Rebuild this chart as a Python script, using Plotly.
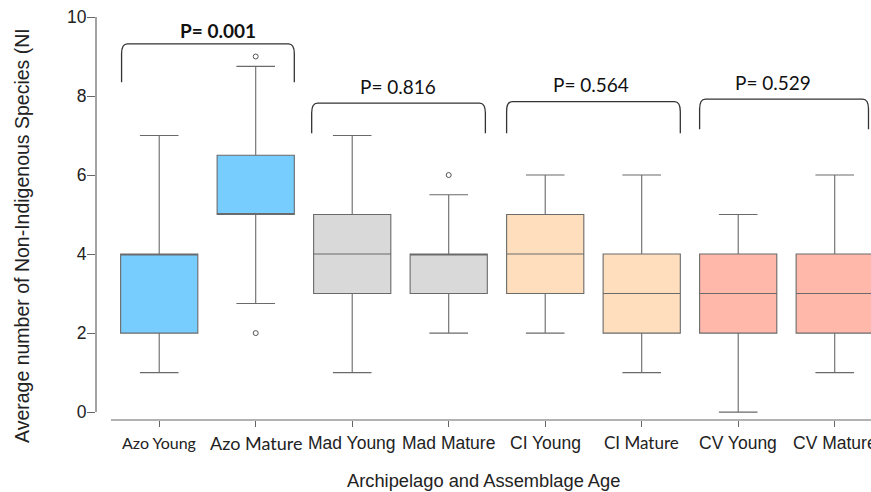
import plotly.graph_objects as go

# ---- data ----
categories = ["Azo Young", "Azo Mature", "Mad Young", "Mad Mature",
              "CI Young", "CI Mature", "CV Young", "CV Mature"]
q1 = [2, 5, 3, 3, 3, 2, 2, 2]
median = [4, 5, 4, 4, 4, 3, 3, 3]
q3 = [4, 6.5, 5, 4, 5, 4, 4, 4]
lower_whisker = [1, 2.75, 1, 2, 2, 1, 0, 1]
upper_whisker = [7, 8.75, 7, 5.5, 6, 6, 5, 6]
outlier_cat = [1, 1, 3]
outlier_val = [9, 2, 6]
p_labels = ["P= 0.001", "P= 0.816", "P= 0.564", "P= 0.529"]
y_ticks = [0, 2, 4, 6, 8, 10]

colors = ["#78CDFF", "#78CDFF", "#D9D9D9", "#D9D9D9",
          "#FFDEBD", "#FFDEBD", "#FFB8AA", "#FFB8AA"]
tick_fonts = [("Lato", 16), ("Lato", 18), ("Liberation Sans", 17.5), ("Liberation Sans", 17.5),
              ("Liberation Sans", 17.5), ("Lato", 17), ("Liberation Sans", 17.5), ("Liberation Sans", 17.5)]

fig = go.Figure()
for i, cat in enumerate(categories):
    fig.add_trace(go.Box(
        x=[i], q1=[q1[i]], median=[median[i]], q3=[q3[i]],
        lowerfence=[lower_whisker[i]], upperfence=[upper_whisker[i]],
        width=0.8, whiskerwidth=0.5, boxpoints=False,
        fillcolor=colors[i], line=dict(color="#6a6a6a", width=1.1),
        name=cat, showlegend=False, hoverinfo="skip",
    ))

fig.add_trace(go.Scatter(
    x=outlier_cat, y=outlier_val, mode="markers",
    marker=dict(symbol="circle-open", size=5, color="#555", line=dict(width=1)),
    showlegend=False, hoverinfo="skip",
))

# brackets: (left, right, top, leg bottom)
brackets = [(-0.39, 1.40, 9.32, 8.35), (1.58, 3.38, 7.82, 7.06),
            (3.60, 5.40, 7.86, 7.06), (5.60, 7.35, 7.92, 7.16)]
shapes = []
for (x0, x1, yt, yb) in brackets:
    dx = 0.06
    dy = 0.25
    path = (f"M {x0},{yb} L {x0},{yt - dy} Q {x0},{yt} {x0 + dx},{yt} "
            f"L {x1 - dx},{yt} Q {x1},{yt} {x1},{yt - dy} L {x1},{yb}")
    shapes.append(dict(type="path", path=path, xref="x", yref="y",
                       line=dict(color="#333", width=1.3)))

# axis lines
shapes.append(dict(type="line", xref="paper", yref="y", x0=0, x1=0, y0=0, y1=10,
                   line=dict(color="#666", width=1.2)))
shapes.append(dict(type="line", xref="x", yref="paper", x0=-0.5, x1=7.5, y0=0, y1=0,
                   line=dict(color="#666", width=1.2)))

annotations = []
p_pos = [(0.61, 9.67), (2.47, 8.25), (4.47, 8.30), (6.36, 8.33)]
for k, (txt, (px, py)) in enumerate(zip(p_labels, p_pos)):
    t = f"<b>{txt}</b>" if k == 0 else txt
    annotations.append(dict(x=px, y=py, xref="x", yref="y", text=t, showarrow=False,
                            xanchor="center", yanchor="middle",
                            font=dict(family="Lato", size=19, color="#111")))

# x tick labels
for i, (c, (f, s)) in enumerate(zip(categories, tick_fonts)):
    annotations.append(dict(x=i, y=-0.057, xref="x", yref="paper", text=c, showarrow=False,
                            xanchor="center", yanchor="middle",
                            font=dict(family=f, size=s, color="#222")))

annotations.append(dict(x=0.5, y=-0.149, xref="paper", yref="paper",
                        text="Archipelago and Assemblage Age", showarrow=False,
                        xanchor="center", yanchor="middle",
                        font=dict(family="Liberation Sans", size=18.3, color="#222")))
annotations.append(dict(x=-0.0955, y=0.459, xref="paper", yref="paper",
                        text="Average number of Non-Indigenous Species (NI", textangle=-90,
                        showarrow=False, xanchor="center", yanchor="middle",
                        font=dict(family="Liberation Sans", size=19.5, color="#222")))

fig.update_layout(
    width=871, height=492,
    margin=dict(l=96, r=0, t=17, b=72),
    paper_bgcolor="white", plot_bgcolor="white",
    boxmode="overlay",
    shapes=shapes, annotations=annotations,
    xaxis=dict(range=[-0.655, 7.376], tickvals=list(range(8)), showticklabels=False,
               showgrid=False, zeroline=False, showline=False,
               ticks="outside", ticklen=6, tickcolor="#666", tickwidth=1.2),
    yaxis=dict(range=[-0.2, 10.0], tickvals=y_ticks,
               showgrid=False, zeroline=False, showline=False,
               ticks="outside", ticklen=8, tickcolor="#666", tickwidth=1.2,
               ticklabelstandoff=-3,
               tickfont=dict(family="Liberation Sans", size=17.5, color="#222")),
)

fig.write_html("out.html")
